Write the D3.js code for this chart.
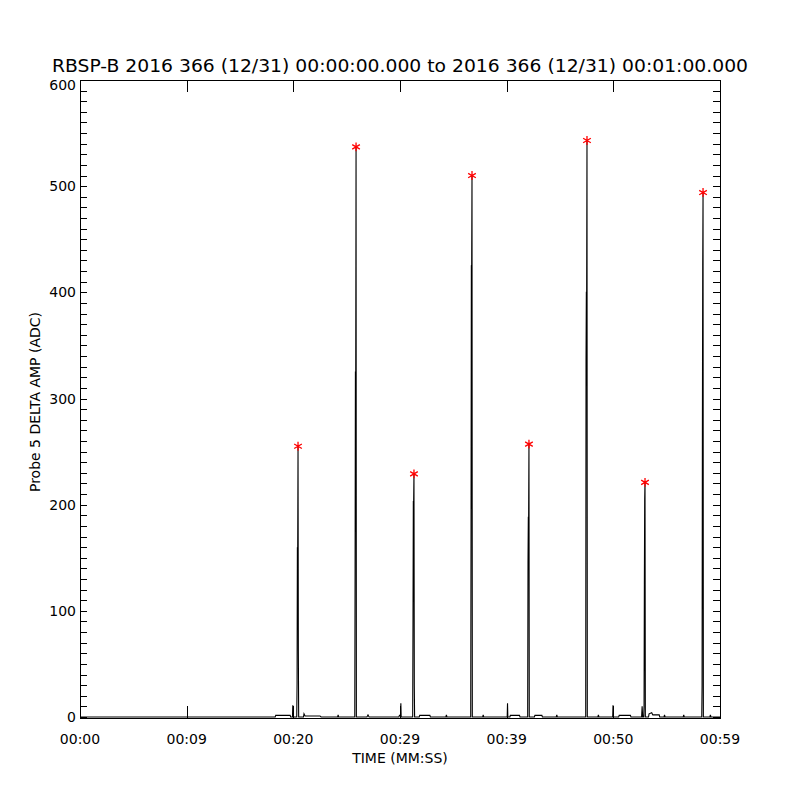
<!DOCTYPE html>
<html>
<head>
<meta charset="utf-8">
<script src="https://cdn.jsdelivr.net/npm/d3@7"></script>
<style>
  body { margin: 0; background: #fff; }
  text { font-family: "DejaVu Sans", sans-serif; fill: #000; }
</style>
</head>
<body>
<div id="chart"></div>
<script>
// samples of the trace: seconds after 00:00 and amplitude (ADC)
const sampleTimes = [
  0, 18.3, 18.35, 19.7, 19.75, 19.92, 19.95, 19.98,
  20.32, 20.35, 20.38, 20.41, 20.44, 20.47, 20.50, 20.95, 21.0, 21.1, 22.5, 22.6, 24.15, 24.2, 24.25,
  25.76, 25.79, 25.82, 25.85, 25.88, 25.91, 26.9, 27.0, 27.1, 29.9, 29.95, 30.05, 30.08, 30.11, 30.8, 30.85,
  31.19, 31.22, 31.25, 31.28, 31.31, 31.34, 31.37, 31.8, 31.85, 32.8, 32.85, 34.3, 34.35, 34.4,
  36.63, 36.66, 36.69, 36.72, 36.75, 36.78, 37.75, 37.8, 37.85, 40.05, 40.08, 40.11, 40.3, 40.35, 41.2, 41.25,
  41.97, 42.00, 42.03, 42.06, 42.09, 42.12, 42.6, 42.65, 43.3, 43.35, 44.65, 44.7, 44.75,
  47.41, 47.44, 47.47, 47.50, 47.53, 47.56, 48.55, 48.6, 48.65, 49.94, 49.97, 50.0, 50.5, 50.55, 51.6, 51.65, 52.65, 52.7, 52.75,
  52.85, 52.88, 52.91, 52.94, 52.97, 53.00, 53.3, 53.35, 53.6, 53.7, 54.3, 54.35, 54.75, 54.8, 54.85, 56.55, 56.6, 56.65,
  58.29, 58.32, 58.35, 58.38, 58.41, 58.44, 59.05, 59.1, 59.15, 60
];
const sampleAmps = [
  0, 0, 1.5, 1.5, 0, 0, 11, 0,
  0, 32, 160, 158, 255, 62, 0, 0, 3, 1, 1, 0, 0, 2, 0,
  0, 140, 325, 325, 537, 0, 0, 2, 0, 0, 1.5, 1.5, 13, 0, 0, 0,
  0, 95, 203, 203, 229, 30, 0, 0, 1.5, 1.5, 0, 0, 2, 0,
  0, 180, 425, 425, 510, 0, 0, 2, 0, 0, 13, 0, 0, 1.5, 1.5, 0,
  0, 145, 188, 188, 257, 0, 0, 1.5, 1.5, 0, 0, 2, 0,
  0, 335, 400, 400, 543, 0, 0, 2, 0, 0, 11, 0, 0, 1.5, 1.5, 0, 0, 10, 0,
  0, 10, 125, 205, 222, 0, 0, 3, 4, 2, 2, 0, 0, 2, 0, 0, 2, 0,
  0, 30, 270, 425, 494, 0, 0, 2, 0, 0
];

// peaks marked with red asterisks
const peakTimes = [20.44, 25.88, 31.31, 36.75, 42.09, 47.53, 52.97, 58.41];
const peakAmps = [255, 537, 229, 510, 257, 543, 221, 494];

const xTickValues = [0, 10, 20, 30, 40, 50, 60];
const xTickLabels = ['00:00', '00:09', '00:20', '00:29', '00:39', '00:50', '00:59'];
const yMajorTicks = [0, 100, 200, 300, 400, 500, 600];

const width = 800, height = 800;
const plot = { left: 80, right: 720, top: 80, bottom: 718 };

const svg = d3.select('#chart').append('svg')
  .attr('width', width)
  .attr('height', height);

const x = d3.scaleLinear().domain([0, 60]).range([plot.left, plot.right]);
const y = d3.scaleLinear().domain([0, 600]).range([plot.bottom - 1, plot.top]);

// title
svg.append('text')
  .attr('x', 52).attr('y', 72)
  .attr('font-size', 17)
  .attr('textLength', 696)
  .attr('lengthAdjust', 'spacingAndGlyphs')
  .text('RBSP-B 2016 366 (12/31) 00:00:00.000 to 2016 366 (12/31) 00:01:00.000');

// trace
const points = sampleTimes.map((t, i) => [t, sampleAmps[i]]);
const line = d3.line().x(d => x(d[0])).y(d => y(d[1]));
svg.append('path')
  .datum(points)
  .attr('fill', 'none')
  .attr('stroke', '#000')
  .attr('stroke-width', 1.1)
  .attr('d', line);

// frame
svg.append('rect')
  .attr('x', plot.left + 0.5).attr('y', plot.top + 0.5)
  .attr('width', plot.right - plot.left).attr('height', plot.bottom - plot.top)
  .attr('fill', 'none').attr('stroke', '#000').attr('stroke-width', 1)
  .attr('shape-rendering', 'crispEdges');

// y ticks on both sides, inward
const yAll = d3.range(0, 601, 10);
const axes = svg.append('g').attr('shape-rendering', 'crispEdges').attr('stroke', '#000');
axes.selectAll('.yl').data(yAll).enter().append('line')
  .attr('x1', plot.left).attr('x2', plot.left + 7)
  .attr('y1', d => Math.round(y(d)) + 0.5).attr('y2', d => Math.round(y(d)) + 0.5);
axes.selectAll('.yr').data(yAll).enter().append('line')
  .attr('x1', plot.right - 7).attr('x2', plot.right)
  .attr('y1', d => Math.round(y(d)) + 0.5).attr('y2', d => Math.round(y(d)) + 0.5);

// x ticks bottom and top
axes.selectAll('.xb').data(xTickValues).enter().append('line')
  .attr('x1', d => Math.round(x(d)) + 0.5).attr('x2', d => Math.round(x(d)) + 0.5)
  .attr('y1', plot.bottom).attr('y2', plot.bottom - 12);
axes.selectAll('.xt').data(xTickValues).enter().append('line')
  .attr('x1', d => Math.round(x(d)) + 0.5).attr('x2', d => Math.round(x(d)) + 0.5)
  .attr('y1', plot.top).attr('y2', plot.top + 12);

// tick labels
svg.selectAll('.ylab').data(yMajorTicks).enter().append('text')
  .attr('x', 76).attr('y', d => y(d) + (d === 600 ? 10 : 5))
  .attr('text-anchor', 'end')
  .attr('font-size', 14)
  .text(d => d);

svg.selectAll('.xlab').data(xTickValues).enter().append('text')
  .attr('x', d => x(d)).attr('y', 744)
  .attr('text-anchor', 'middle')
  .attr('font-size', 14)
  .text((d, i) => xTickLabels[i]);

// axis titles
svg.append('text')
  .attr('x', 400).attr('y', 763)
  .attr('text-anchor', 'middle')
  .attr('font-size', 14)
  .text('TIME (MM:SS)');

svg.append('text')
  .attr('transform', 'translate(40, 402) rotate(-90)')
  .attr('text-anchor', 'middle')
  .attr('font-size', 14)
  .text('Probe 5 DELTA AMP (ADC)');

// peak markers
svg.selectAll('.peak').data(peakTimes).enter().append('path')
  .attr('transform', (d, i) => `translate(${x(d)}, ${y(peakAmps[i])})`)
  .attr('d', d3.symbol(d3.symbolAsterisk, 55))
  .attr('fill', 'none')
  .attr('stroke', '#ff0000')
  .attr('stroke-width', 1.3);
</script>
</body>
</html>
